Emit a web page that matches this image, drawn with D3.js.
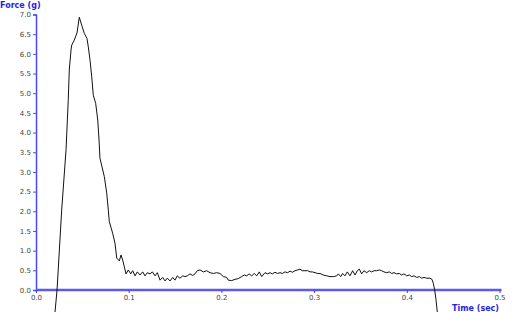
<!DOCTYPE html>
<html>
<head>
<meta charset="utf-8">
<script src="https://cdn.jsdelivr.net/npm/d3@7"></script>
<style>
  body { margin: 0; background: #fff; }
  svg { display: block; }
</style>
</head>
<body>
<div id="force-chart"></div>
<script>
// data
const timeSec = [
  0.0205, 0.0227, 0.0277, 0.0324, 0.0348, 0.0359, 0.0378, 0.0385, 0.0413, 0.0442,
  0.0467, 0.0493, 0.0521, 0.0550, 0.0564, 0.0583, 0.0601, 0.0618, 0.0644, 0.0666,
  0.0680, 0.0690, 0.0737, 0.0763, 0.0780, 0.0791, 0.0827, 0.0852, 0.0871, 0.0899,
  0.0917, 0.0935, 0.0953, 0.0971, 0.0996, 0.1022, 0.1043, 0.1068, 0.1093, 0.1122,
  0.1151, 0.1176, 0.1201, 0.1230, 0.1255, 0.1284, 0.1309, 0.1338, 0.1367, 0.1392,
  0.1416, 0.1446, 0.1475, 0.1499, 0.1524, 0.1553, 0.1583, 0.1607, 0.1632, 0.1661,
  0.1690, 0.1715, 0.1740, 0.1769, 0.1805, 0.1841, 0.1877, 0.1913, 0.1949, 0.1985,
  0.2021, 0.2057, 0.2074, 0.2111, 0.2147, 0.2182, 0.2219, 0.2247, 0.2273, 0.2298,
  0.2327, 0.2355, 0.2381, 0.2409, 0.2435, 0.2470, 0.2499, 0.2524, 0.2549, 0.2578,
  0.2607, 0.2632, 0.2657, 0.2686, 0.2715, 0.2740, 0.2765, 0.2794, 0.2823, 0.2848,
  0.2873, 0.2902, 0.2931, 0.2956, 0.2981, 0.3010, 0.3039, 0.3064, 0.3099, 0.3136,
  0.3171, 0.3207, 0.3244, 0.3261, 0.3287, 0.3308, 0.3333, 0.3358, 0.3387, 0.3416,
  0.3441, 0.3466, 0.3488, 0.3513, 0.3538, 0.3567, 0.3595, 0.3621, 0.3646, 0.3675,
  0.3703, 0.3729, 0.3754, 0.3783, 0.3811, 0.3837, 0.3862, 0.3891, 0.3919, 0.3945,
  0.3970, 0.3999, 0.4027, 0.4053, 0.4078, 0.4107, 0.4135, 0.4161, 0.4186, 0.4215,
  0.4250, 0.4272, 0.4286, 0.4301, 0.4315, 0.4329
];
const forceG = [
  -0.56, 0.00, 2.03, 3.56, 4.83, 5.59, 6.10, 6.22, 6.35, 6.53,
  6.93, 6.73, 6.52, 6.39, 6.18, 5.84, 5.42, 4.95, 4.74, 4.32,
  3.81, 3.35, 2.88, 2.46, 2.03, 1.74, 1.44, 1.19, 0.81, 0.74,
  0.89, 0.76, 0.59, 0.41, 0.51, 0.41, 0.49, 0.36, 0.46, 0.38,
  0.46, 0.36, 0.44, 0.41, 0.46, 0.36, 0.44, 0.25, 0.32, 0.23,
  0.30, 0.23, 0.32, 0.25, 0.36, 0.30, 0.36, 0.34, 0.36, 0.41,
  0.37, 0.41, 0.49, 0.51, 0.46, 0.49, 0.44, 0.42, 0.44, 0.42,
  0.34, 0.32, 0.25, 0.24, 0.27, 0.29, 0.34, 0.38, 0.36, 0.41,
  0.36, 0.42, 0.36, 0.46, 0.34, 0.44, 0.41, 0.44, 0.41, 0.45,
  0.42, 0.44, 0.42, 0.46, 0.44, 0.48, 0.45, 0.49, 0.51, 0.53,
  0.49, 0.49, 0.49, 0.46, 0.46, 0.44, 0.42, 0.42, 0.38, 0.36,
  0.34, 0.34, 0.36, 0.41, 0.34, 0.42, 0.36, 0.46, 0.36, 0.49,
  0.38, 0.49, 0.53, 0.41, 0.49, 0.44, 0.49, 0.46, 0.49, 0.49,
  0.51, 0.49, 0.46, 0.44, 0.46, 0.42, 0.44, 0.41, 0.42, 0.38,
  0.41, 0.36, 0.38, 0.34, 0.36, 0.32, 0.34, 0.30, 0.32, 0.30,
  0.30, 0.27, 0.17, 0.00, -0.25, -0.56
];
const xTicks = [0, 0.1, 0.2, 0.3, 0.4, 0.5];
const yTicks = [0, 0.5, 1, 1.5, 2, 2.5, 3, 3.5, 4, 4.5, 5, 5.5, 6, 6.5, 7];
const xTitle = "Time (sec)",
  yTitle = "Force (g)";

function addForceChart(cWidth, cHeight) {
  const axisBlue = "#5a5af0",
    titleBlue = "#1f1fe0",
    labelFont = "DejaVu Sans, Verdana, sans-serif",
    svg = d3
      .select("#force-chart")
      .append("svg")
      .attr("width", cWidth)
      .attr("height", cHeight);

  const x = d3.scaleLinear().domain([0, 0.5]).range([36, 499.5]),
    y = d3.scaleLinear().domain([0, 7]).range([290, 14.5]);

  // y axis
  const yAxis = svg
    .append("g")
    .attr("transform", "translate(36,0)")
    .call(d3.axisLeft(y).tickValues(yTicks).tickSize(3).tickPadding(2).tickFormat(d3.format(".1f")));
  yAxis.select(".domain").attr("stroke", "#4a4aff").attr("stroke-width", 1.5);
  yAxis.selectAll(".tick line").attr("stroke", "#4a4aff");
  yAxis
    .selectAll(".tick text")
    .attr("fill", "#444")
    .style("font", `7px ${labelFont}`);

  // x axis
  const xAxis = svg
    .append("g")
    .attr("transform", "translate(0,290)")
    .call(d3.axisBottom(x).tickValues(xTicks).tickSize(3).tickPadding(2).tickFormat(d3.format(".1f")));
  xAxis
    .select(".domain")
    .attr("d", `M${x(0)},0H${x(0.5) + 2}`)
    .attr("stroke", axisBlue)
    .attr("stroke-width", 2.5);
  xAxis.selectAll(".tick line").attr("stroke", "#3a3aff");
  xAxis
    .selectAll(".tick text")
    .attr("fill", "#444")
    .style("font", `7px ${labelFont}`);

  // titles
  svg
    .append("text")
    .attr("x", 0)
    .attr("y", 8)
    .attr("fill", titleBlue)
    .style("font", `bold 8px ${labelFont}`)
    .text(yTitle);
  svg
    .append("text")
    .attr("x", 499)
    .attr("y", 311)
    .attr("text-anchor", "end")
    .attr("fill", titleBlue)
    .style("font", `bold 8px ${labelFont}`)
    .text(xTitle);

  // the trace
  const pts = timeSec.map((t, i) => ({ t: t, f: forceG[i] }));
  svg
    .append("path")
    .datum(pts)
    .attr("fill", "none")
    .attr("stroke", "#111")
    .attr("stroke-width", 1)
    .attr(
      "d",
      d3
        .line()
        .x(d => x(d.t))
        .y(d => y(d.f))
    );
}

addForceChart(515, 312);
</script>
</body>
</html>
